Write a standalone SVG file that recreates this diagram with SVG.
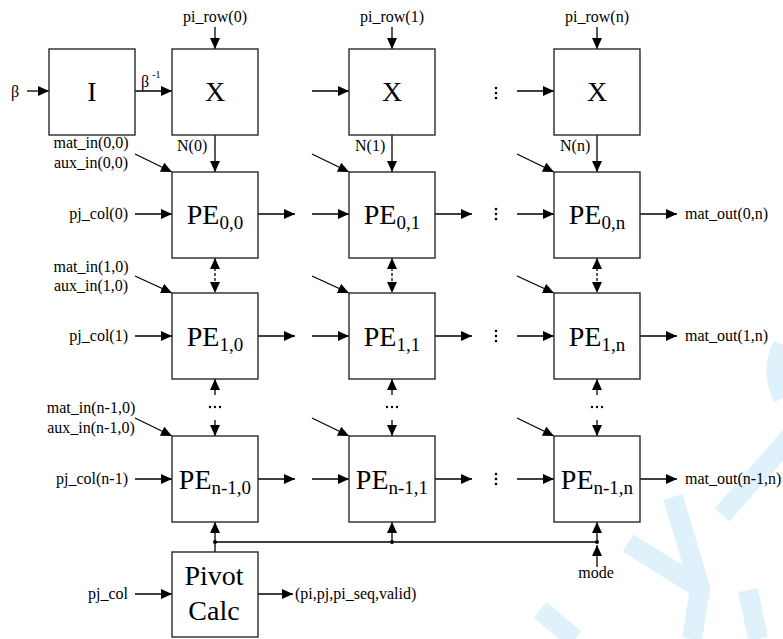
<svg xmlns="http://www.w3.org/2000/svg" width="783" height="639" viewBox="0 0 783 639">
  <style>
    .box { fill: #ffffff; stroke: #2a2a2a; stroke-width: 1.4; }
    .wire { fill: none; stroke: #000000; stroke-width: 1.3; }
    .arrow { fill: none; stroke: #000000; stroke-width: 1.3; marker-end: url(#head); }
    .both { fill: none; stroke: #000000; stroke-width: 1.3; stroke-dasharray: 3 2; marker-start: url(#headRev); marker-end: url(#head); }
    .lbl { font-family: "Liberation Serif", "Times New Roman", serif; font-size: 16px; fill: #000000; }
    .big { font-family: "Liberation Serif", "Times New Roman", serif; font-size: 28px; fill: #000000; text-anchor: middle; }
    .sub { font-size: 19px; }
    .dot { fill: #000000; }
    .wm { fill: none; stroke: #dff2fb; stroke-width: 20; stroke-linecap: butt; }
  </style>
  <defs>
    <marker id="head" markerUnits="userSpaceOnUse" markerWidth="11" markerHeight="10" refX="11" refY="5" orient="auto">
      <path d="M0,0 L11,5 L0,10 z" fill="#000000"/>
    </marker>
    <marker id="headRev" markerUnits="userSpaceOnUse" markerWidth="11" markerHeight="10" refX="11" refY="5" orient="auto-start-reverse">
      <path d="M0,0 L11,5 L0,10 z" fill="#000000"/>
    </marker>
  </defs>

  <rect width="783" height="639" fill="#ffffff"/>

  <!-- faint background mark, lower right -->
  <g id="backdrop-mark">
    <path class="wm" d="M790,437 L722,515"/>
    <path class="wm" d="M628,543 L700,588"/>
    <path class="wm" d="M673,497 L700,588 L692,639"/>
    <path class="wm" d="M540,610 L575,639"/>
    <path class="wm" d="M748,590 L758,639"/>
    <path class="wm" d="M783,345 Q770,370 783,398"/>
  </g>

  <!-- connectors -->
  <g id="connectors">
    <!-- top inputs -->
    <line class="arrow" x1="27" y1="91" x2="49" y2="91"/>
    <line class="arrow" x1="135" y1="91" x2="172" y2="91"/>
    <line class="arrow" x1="312" y1="91" x2="349" y2="91"/>
    <line class="arrow" x1="517" y1="91" x2="554" y2="91"/>
    <line class="arrow" x1="215" y1="27" x2="215" y2="49"/>
    <line class="arrow" x1="392" y1="27" x2="392" y2="49"/>
    <line class="arrow" x1="597" y1="27" x2="597" y2="49"/>
    <!-- X to PE row 0 -->
    <line class="arrow" x1="215" y1="135" x2="215" y2="172"/>
    <line class="arrow" x1="392" y1="135" x2="392" y2="172"/>
    <line class="arrow" x1="597" y1="135" x2="597" y2="172"/>

    <!-- diagonal matrix inputs -->
    <line class="arrow" x1="135" y1="154" x2="172" y2="172"/>
    <line class="arrow" x1="312" y1="154" x2="349" y2="172"/>
    <line class="arrow" x1="517" y1="154" x2="554" y2="172"/>
    <line class="arrow" x1="135" y1="276" x2="172" y2="293"/>
    <line class="arrow" x1="312" y1="276" x2="349" y2="293"/>
    <line class="arrow" x1="517" y1="276" x2="554" y2="293"/>
    <line class="arrow" x1="135" y1="418" x2="172" y2="436"/>
    <line class="arrow" x1="312" y1="418" x2="349" y2="436"/>
    <line class="arrow" x1="517" y1="418" x2="554" y2="436"/>

    <!-- row 0 horizontals -->
    <line class="arrow" x1="135" y1="214" x2="172" y2="214"/>
    <line class="arrow" x1="258" y1="214" x2="295" y2="214"/>
    <line class="arrow" x1="312" y1="214" x2="349" y2="214"/>
    <line class="arrow" x1="435" y1="214" x2="472" y2="214"/>
    <line class="arrow" x1="517" y1="214" x2="554" y2="214"/>
    <line class="arrow" x1="640" y1="214" x2="677" y2="214"/>
    <!-- row 1 horizontals -->
    <line class="arrow" x1="135" y1="336" x2="172" y2="336"/>
    <line class="arrow" x1="258" y1="336" x2="295" y2="336"/>
    <line class="arrow" x1="312" y1="336" x2="349" y2="336"/>
    <line class="arrow" x1="435" y1="336" x2="472" y2="336"/>
    <line class="arrow" x1="517" y1="336" x2="554" y2="336"/>
    <line class="arrow" x1="640" y1="336" x2="677" y2="336"/>
    <!-- row n-1 horizontals -->
    <line class="arrow" x1="135" y1="479" x2="172" y2="479"/>
    <line class="arrow" x1="258" y1="479" x2="295" y2="479"/>
    <line class="arrow" x1="312" y1="479" x2="349" y2="479"/>
    <line class="arrow" x1="435" y1="479" x2="472" y2="479"/>
    <line class="arrow" x1="517" y1="479" x2="554" y2="479"/>
    <line class="arrow" x1="640" y1="479" x2="677" y2="479"/>

    <!-- vertical links row 0 <-> row 1 -->
    <line class="both" x1="215" y1="258" x2="215" y2="293"/>
    <line class="both" x1="392" y1="258" x2="392" y2="293"/>
    <line class="both" x1="597" y1="258" x2="597" y2="293"/>

    <!-- vertical links row 1 <-> row n-1 (elided) -->
    <line class="arrow" x1="215" y1="395" x2="215" y2="379"/>
    <line class="arrow" x1="215" y1="420" x2="215" y2="436"/>
    <line class="arrow" x1="392" y1="395" x2="392" y2="379"/>
    <line class="arrow" x1="392" y1="420" x2="392" y2="436"/>
    <line class="arrow" x1="597" y1="395" x2="597" y2="379"/>
    <line class="arrow" x1="597" y1="420" x2="597" y2="436"/>

    <!-- control bus under the last row -->
    <line class="wire" x1="215" y1="542" x2="597" y2="542"/>
    <line class="arrow" x1="215" y1="552" x2="215" y2="522"/>
    <line class="arrow" x1="392" y1="542" x2="392" y2="522"/>
    <line class="arrow" x1="597" y1="542" x2="597" y2="522"/>
    <line class="arrow" x1="597" y1="567" x2="597" y2="545"/>
    <circle class="dot" cx="215" cy="542" r="2"/>
    <circle class="dot" cx="392" cy="542" r="2"/>
    <circle class="dot" cx="597" cy="542" r="2"/>

    <!-- pivot unit ports -->
    <line class="arrow" x1="135" y1="594" x2="172" y2="594"/>
    <line class="arrow" x1="258" y1="594" x2="293" y2="594"/>

    <!-- column ellipses -->
    <g class="dot">
      <circle cx="496" cy="88" r="1.3"/><circle cx="496" cy="93" r="1.3"/><circle cx="496" cy="98" r="1.3"/>
      <circle cx="496" cy="209" r="1.3"/><circle cx="496" cy="214" r="1.3"/><circle cx="496" cy="219" r="1.3"/>
      <circle cx="496" cy="331" r="1.3"/><circle cx="496" cy="336" r="1.3"/><circle cx="496" cy="341" r="1.3"/>
      <circle cx="496" cy="474" r="1.3"/><circle cx="496" cy="479" r="1.3"/><circle cx="496" cy="484" r="1.3"/>
    </g>
    <!-- row ellipses -->
    <g class="dot">
      <circle cx="210" cy="407" r="1.2"/><circle cx="215" cy="407" r="1.2"/><circle cx="220" cy="407" r="1.2"/>
      <circle cx="387" cy="407" r="1.2"/><circle cx="392" cy="407" r="1.2"/><circle cx="397" cy="407" r="1.2"/>
      <circle cx="592" cy="407" r="1.2"/><circle cx="597" cy="407" r="1.2"/><circle cx="602" cy="407" r="1.2"/>
    </g>
  </g>

  <!-- signal labels -->
  <g id="labels" class="lbl">
    <text x="15" y="97" text-anchor="middle">β</text>
    <text x="141" y="87">β<tspan font-size="10" dy="-9" dx="3">-1</tspan></text>
    <text x="215" y="22" text-anchor="middle">pi_row(0)</text>
    <text x="392" y="22" text-anchor="middle">pi_row(1)</text>
    <text x="597" y="22" text-anchor="middle">pi_row(n)</text>
    <text x="177" y="151">N(0)</text>
    <text x="355" y="151">N(1)</text>
    <text x="560" y="151">N(n)</text>
    <text x="91" y="148" text-anchor="middle">mat_in(0,0)</text>
    <text x="91" y="168" text-anchor="middle">aux_in(0,0)</text>
    <text x="91" y="272" text-anchor="middle">mat_in(1,0)</text>
    <text x="91" y="291" text-anchor="middle">aux_in(1,0)</text>
    <text x="91" y="413" text-anchor="middle">mat_in(n-1,0)</text>
    <text x="91" y="433" text-anchor="middle">aux_in(n-1,0)</text>
    <text x="128" y="219" text-anchor="end">pj_col(0)</text>
    <text x="128" y="341" text-anchor="end">pj_col(1)</text>
    <text x="128" y="484" text-anchor="end">pj_col(n-1)</text>
    <text x="128" y="599" text-anchor="end">pj_col</text>
    <text x="685" y="219">mat_out(0,n)</text>
    <text x="685" y="341">mat_out(1,n)</text>
    <text x="685" y="484">mat_out(n-1,n)</text>
    <text x="596" y="578" text-anchor="middle">mode</text>
    <text x="295" y="599">(pi,pj,pi_seq,valid)</text>
  </g>

  <!-- inverse unit -->
  <g id="node-I">
    <rect class="box" x="49" y="49" width="86" height="86"/>
    <text class="big" x="92" y="101">I</text>
  </g>

  <!-- scaling units -->
  <g id="node-X0">
    <rect class="box" x="172" y="49" width="86" height="86"/>
    <text class="big" x="215" y="101">X</text>
  </g>
  <g id="node-X1">
    <rect class="box" x="349" y="49" width="86" height="86"/>
    <text class="big" x="392" y="101">X</text>
  </g>
  <g id="node-Xn">
    <rect class="box" x="554" y="49" width="86" height="86"/>
    <text class="big" x="597" y="101">X</text>
  </g>

  <!-- processing element array -->
  <g id="node-PE00">
    <rect class="box" x="172" y="172" width="86" height="86"/>
    <text class="big" x="215" y="224">PE<tspan class="sub" dy="5">0,0</tspan></text>
  </g>
  <g id="node-PE01">
    <rect class="box" x="349" y="172" width="86" height="86"/>
    <text class="big" x="392" y="224">PE<tspan class="sub" dy="5">0,1</tspan></text>
  </g>
  <g id="node-PE0n">
    <rect class="box" x="554" y="172" width="86" height="86"/>
    <text class="big" x="597" y="224">PE<tspan class="sub" dy="5">0,n</tspan></text>
  </g>
  <g id="node-PE10">
    <rect class="box" x="172" y="293" width="86" height="86"/>
    <text class="big" x="215" y="346">PE<tspan class="sub" dy="5">1,0</tspan></text>
  </g>
  <g id="node-PE11">
    <rect class="box" x="349" y="293" width="86" height="86"/>
    <text class="big" x="392" y="346">PE<tspan class="sub" dy="5">1,1</tspan></text>
  </g>
  <g id="node-PE1n">
    <rect class="box" x="554" y="293" width="86" height="86"/>
    <text class="big" x="597" y="346">PE<tspan class="sub" dy="5">1,n</tspan></text>
  </g>
  <g id="node-PEm0">
    <rect class="box" x="172" y="436" width="86" height="86"/>
    <text class="big" x="215" y="489">PE<tspan class="sub" dy="5">n-1,0</tspan></text>
  </g>
  <g id="node-PEm1">
    <rect class="box" x="349" y="436" width="86" height="86"/>
    <text class="big" x="392" y="489">PE<tspan class="sub" dy="5">n-1,1</tspan></text>
  </g>
  <g id="node-PEmn">
    <rect class="box" x="554" y="436" width="86" height="86"/>
    <text class="big" x="597" y="489">PE<tspan class="sub" dy="5">n-1,n</tspan></text>
  </g>

  <!-- pivot calculation unit -->
  <g id="node-pivot">
    <rect class="box" x="172" y="552" width="86" height="85"/>
    <text class="big" x="214" y="585">Pivot</text>
    <text class="big" x="214" y="620">Calc</text>
  </g>
</svg>
